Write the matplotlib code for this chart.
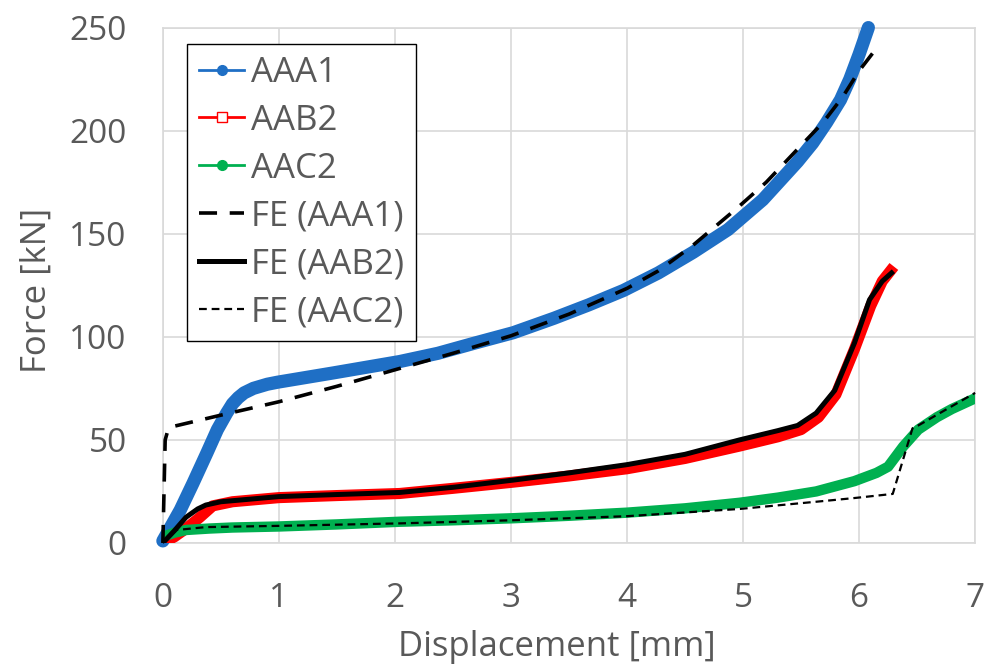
import matplotlib.pyplot as plt
from matplotlib.lines import Line2D

# test data
aaa1_x = [0, 0.03, 0.15, 0.26, 0.38, 0.47, 0.55, 0.6, 0.65, 0.7, 0.78, 0.9, 0.99, 1.47, 2.04, 2.37, 2.69, 3.02, 3.37, 3.67, 3.97, 4.27, 4.57, 4.87, 5.17, 5.47, 5.6, 5.72, 5.84, 5.92, 6.0, 6.08]
aaa1_y = [1, 4, 16, 29, 43.7, 55, 63, 67.5, 70.5, 72.8, 75, 77, 78, 82.5, 88, 92, 97, 102, 109, 115.5, 122.5, 131, 141, 152, 166.5, 185, 194, 204, 215, 225, 237, 250]

aab2_x = [0, 0.1, 0.2, 0.32, 0.43, 0.6, 0.8, 1.0, 1.5, 2.04, 2.5, 3.02, 3.5, 4.0, 4.5, 4.97, 5.3, 5.5, 5.65, 5.8, 5.96, 6.1, 6.2, 6.27]
aab2_y = [0, 3, 7, 12.5, 18, 20, 21, 22, 23, 24, 26.5, 29.5, 32.5, 36, 41, 47, 51.5, 55, 61, 72, 94, 115, 127, 132]

aac2_x = [0, 0.1, 0.2, 0.4, 0.6, 1.0, 1.5, 2.04, 2.5, 3.02, 3.5, 4.0, 4.5, 4.97, 5.3, 5.63, 5.96, 6.15, 6.25, 6.38, 6.51, 6.67, 6.8, 6.97]
aac2_y = [3, 5, 6.3, 7, 7.5, 8, 9, 10.3, 11, 12, 13.2, 14.7, 16.8, 19.5, 22, 25, 30, 34, 37, 46.8, 55, 61, 65, 69.4]

# FE results
fe1_x = [0, 0.02, 0.05, 0.5, 1.0, 1.5, 2.0, 2.5, 3.0, 3.5, 4.0, 4.27, 4.56, 4.95, 5.2, 5.52, 5.69, 5.86, 6.0, 6.15]
fe1_y = [0, 50, 56, 62, 68.5, 76, 84, 92, 100.5, 111, 123.5, 132, 144, 162.5, 175, 194, 204, 216.5, 229, 240]

fe2_x = [0, 0.1, 0.2, 0.3, 0.37, 0.5, 0.8, 1.0, 1.5, 2.04, 2.5, 3.02, 3.5, 4.0, 4.5, 4.97, 5.3, 5.47, 5.63, 5.79, 5.96, 6.09, 6.2, 6.28]
fe2_y = [0, 6, 12.5, 16.5, 18.4, 20, 21.5, 22.5, 23.5, 24.5, 27, 30.5, 34, 38, 43, 50, 54.5, 57, 63, 74, 97, 118, 127, 131]

fe3_x = [0, 0.12, 0.37, 1.0, 2.04, 3.0, 4.0, 4.97, 5.63, 5.96, 6.29, 6.46, 6.51, 7.0]
fe3_y = [0, 6.3, 7.7, 8.3, 9.5, 11, 13, 16.5, 20, 21.8, 23.8, 55.6, 57, 72.8]

labels = ["AAA1", "AAB2", "AAC2", "FE (AAA1)", "FE (AAB2)", "FE (AAC2)"]

blue = "#1F6FC5"
red = "#FF0000"
green = "#00B050"
grey = "#595959"

plt.rcParams["font.family"] = ["Open Sans", "DejaVu Sans"]

fig = plt.figure(figsize=(9.93, 6.65), dpi=100)
ax = fig.add_axes([0.164, 0.1835, 0.818, 0.775])

ax.plot(aaa1_x, aaa1_y, color=blue, lw=9.5, solid_capstyle="round", solid_joinstyle="round", clip_on=False, zorder=3)
ax.plot(aab2_x, aab2_y, color=red, lw=8, solid_joinstyle="round", zorder=3)
ax.plot(aac2_x, aac2_y, color=green, lw=7.5, solid_joinstyle="round", zorder=3)
ax.plot(fe1_x, fe1_y, color="black", lw=2.6, dashes=(5, 3.5), clip_on=False, zorder=4)
ax.plot(fe2_x, fe2_y, color="black", lw=3.6, solid_joinstyle="round", zorder=4)
ax.plot(fe3_x, fe3_y, color="black", lw=1.6, dashes=(3.5, 2.2), clip_on=False, zorder=4)

ax.set_xlim(0, 7)
ax.set_ylim(0, 250)
ax.set_xticks(range(0, 8))
ax.set_yticks(range(0, 251, 50))
ax.grid(color="#D9D9D9", lw=1.2)
ax.set_axisbelow(True)
for s in ax.spines.values():
    s.set_color("#D9D9D9")
    s.set_linewidth(1.2)
ax.tick_params(length=0, labelsize=24, colors=grey)
ax.tick_params(axis="x", pad=28)
ax.tick_params(axis="y", pad=26)
ax.set_xlabel("Displacement [mm]", fontsize=25, color=grey)
ax.set_ylabel("Force [kN]", fontsize=25, color=grey)
ax.xaxis.set_label_coords(0.485, -0.168)
ax.yaxis.set_label_coords(-0.134, 0.49)

handles = [
    Line2D([], [], color=blue, lw=2, marker="o", ms=7),
    Line2D([], [], color=red, lw=2, marker="s", ms=7, mfc="white"),
    Line2D([], [], color=green, lw=2, marker="o", ms=7),
    Line2D([], [], color="black", lw=2.6, dashes=(5, 3.5)),
    Line2D([], [], color="black", lw=3.6),
    Line2D([], [], color="black", lw=1.6, dashes=(3.5, 2.2)),
]
leg = ax.legend(handles, labels, loc="upper left", bbox_to_anchor=(0.0296, 0.969),
                fontsize=25, frameon=True, fancybox=False, framealpha=1,
                edgecolor="black", handlelength=1.3, handletextpad=0.2,
                labelspacing=0.4, borderpad=0.35, borderaxespad=0)
leg.get_frame().set_linewidth(1.0)
for t in leg.get_texts():
    t.set_color(grey)

fig.savefig("out.png", dpi=100)
